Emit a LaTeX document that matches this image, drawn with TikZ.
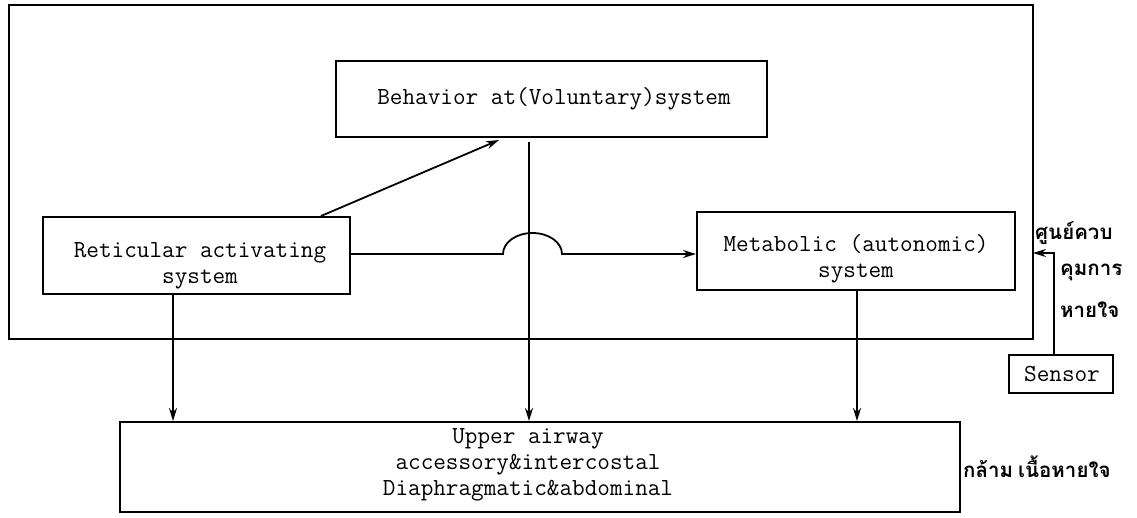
\documentclass[tikz,border=0pt]{standalone}
\usepackage{fontspec}
\newfontfamily\thaifont[Script=Thai]{Loma}
\usetikzlibrary{arrows.meta,calc}
\tikzset{
  box/.style={draw,line width=2pt,inner sep=0pt},
  txt/.style={inner sep=0pt,align=center,font=\ttfamily\fontsize{24.5}{26}\selectfont},
  conn/.style={line width=1.8pt},
  arr/.style={conn,-{Stealth[length=13pt,width=8pt]}},
  thai/.style={anchor=west,inner sep=0pt,font=\thaifont\bfseries\fontsize{20.5}{24}\selectfont}
}
\begin{document}
\begin{tikzpicture}[x=1pt,y=-1pt]
\useasboundingbox (0,0) rectangle (1137,517);
% outer frame
\draw[line width=2pt] (9,5) rectangle (1033,339);
\coordinate (frameE) at (1033,253);
% boxes
\node[box,minimum width=431pt,minimum height=76pt] (beh) at (551.5,99) {};
\node[box,minimum width=307pt,minimum height=77pt] (ret) at (196.5,255.5) {};
\node[box,minimum width=318pt,minimum height=78pt] (met) at (856,251) {};
\node[box,minimum width=840pt,minimum height=90pt] (mus) at (540,467) {};
\node[box,minimum width=104pt,minimum height=38pt] (sen) at (1061,374) {};
% box texts
\node[txt] (beht) at (554,99) {Behavior at(Voluntary)system};
\node[txt] (rett) at (200,266) {Reticular activating\\system};
\node[txt] (mett) at (856,259) {Metabolic (autonomic)\\system};
\node[txt] (must) at (528,465) {Upper airway\\accessory\&intercostal\\Diaphragmatic\&abdominal};
\node[txt] (sent) at (1062,374) {Sensor};
% Thai labels
\node[thai] (t1) at (1035,233) {ศูนย์ควบ};
\node[thai] (t2) at (1060,272) {คุมการ};
\node[thai] (t3) at (1060,310) {หายใจ};
\node[thai] (t4) at (963,467) {กล้าม\hspace{5pt}เนื้อหายใจ};
% connectors
\draw[arr] ($(ret.north west)+(279,0)$) -- ($(beh.south west)+(164,2)$);
\draw[arr] ($(beh.south west)+(194,4)$) -- ($(mus.north west)+(410,0)$);
\draw[arr] (ret.east |- 0,254) -- (503,254) arc[start angle=180,end angle=0,x radius=29.5pt,y radius=21pt] -- (met.west |- 0,254);
\draw[arr] ($(ret.south west)+(131,0)$) -- ($(mus.north west)+(54,0)$);
\draw[arr] ($(met.south west)+(161,0)$) -- ($(mus.north west)+(738,0)$);
\draw[arr] ($(sen.north west)+(46,0)$) |- (frameE);
\end{tikzpicture}
\end{document}
